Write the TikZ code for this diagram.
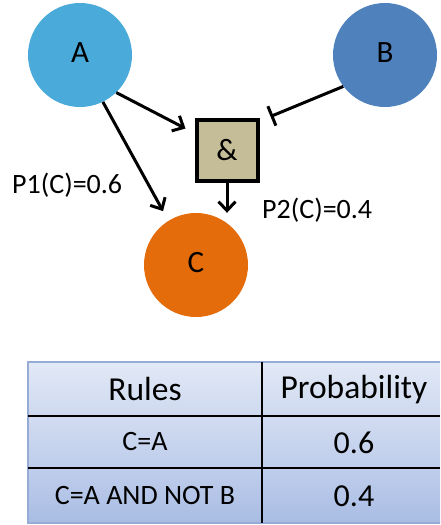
\documentclass[tikz,border=0pt]{standalone}
\usepackage{fontspec}
\setmainfont{Carlito}
\usetikzlibrary{arrows.meta,calc}
\definecolor{cA}{RGB}{74,171,219}
\definecolor{cB}{RGB}{79,129,189}
\definecolor{cC}{RGB}{228,108,10}
\definecolor{cBox}{RGB}{196,189,151}
\definecolor{rOneTop}{RGB}{226,233,246}
\definecolor{rOneBot}{RGB}{206,217,239}
\definecolor{rTwoTop}{RGB}{210,220,241}
\definecolor{rTwoBot}{RGB}{190,205,235}
\definecolor{rThreeTop}{RGB}{192,206,236}
\definecolor{rThreeBot}{RGB}{168,188,227}
\definecolor{tBorder}{RGB}{150,172,214}
\tikzset{
  circ/.style={circle, minimum size=104pt, inner sep=0pt},
  lbl/.style={anchor=base, inner sep=0pt, font=\fontsize{31}{31}\selectfont},
  plbl/.style={anchor=base west, inner sep=0pt, font=\fontsize{28}{28}\selectfont},
  hdr/.style={anchor=base, inner sep=0pt, font=\fontsize{33.5}{33.5}\selectfont},
  num/.style={anchor=base, inner sep=0pt, font=\fontsize{32}{32}\selectfont},
  rule/.style={anchor=base, inner sep=0pt, font=\fontsize{28}{28}\selectfont},
  arr/.style={line width=3pt, -{Straight Barb[length=9pt,width=17pt,line width=3pt]}},
  inh/.style={line width=3pt, -{Bar[width=21pt,line width=3pt]}},
}
\begin{document}
\begin{tikzpicture}[x=1pt,y=-1pt]
\useasboundingbox (0,0) rectangle (440,525);
% circles
\node[circ, fill=cA] (A) at (80,55) {};
\node[circ, fill=cB] (B) at (385,55) {};
\node[circ, fill=cC] (C) at (196,265) {};
\node[lbl] (tA) at (80,62) {A};
\node[lbl] (tB) at (385,62) {B};
\node[lbl] (tC) at (196,272) {C};
% and box
\node[draw, line width=4pt, fill=cBox, minimum size=61pt, inner sep=0pt,
      font=\fontsize{31}{31}\selectfont] (amp) at (227,150) {\&};
% connectors
\draw[arr] (A.-46) -- ($(amp.north west)+(-9,11)$);
\draw[arr, shorten >=11pt] (A.-64) -- (C.122);
\draw[arr] (amp.south) -- (amp.south |- C.north);
\draw[inh] (B.217) -- ($(amp.north east)+(11,-1)$);
% labels
\node[plbl] (p1) at (12,193) {P1(C)=0.6};
\node[plbl] (p2) at (262,218) {P2(C)=0.4};
% table
\shade[top color=rOneTop, bottom color=rOneBot] (28,362) rectangle (440,416);
\shade[top color=rTwoTop, bottom color=rTwoBot] (28,416) rectangle (440,468);
\shade[top color=rThreeTop, bottom color=rThreeBot] (28,468) rectangle (440,523);
\draw[tBorder, line width=1.2pt] (440,362) -- (28,362) -- (28,523) -- (440,523);
\draw[line width=1.8pt] (28,416) -- (440,416);
\draw[line width=1.8pt] (28,468) -- (440,468);
\draw[line width=1.8pt] (262,362) -- (262,523);
\node[hdr] (h1) at (145,400) {Rules};
\node[hdr] (h2) at (354,398) {Probability};
\node[rule] (r1) at (145,450) {C=A};
\node[num] (v1) at (354,453) {0.6};
\node[rule] (r2) at (145,504) {C=A AND NOT B};
\node[num] (v2) at (354,506) {0.4};
\end{tikzpicture}
\end{document}
